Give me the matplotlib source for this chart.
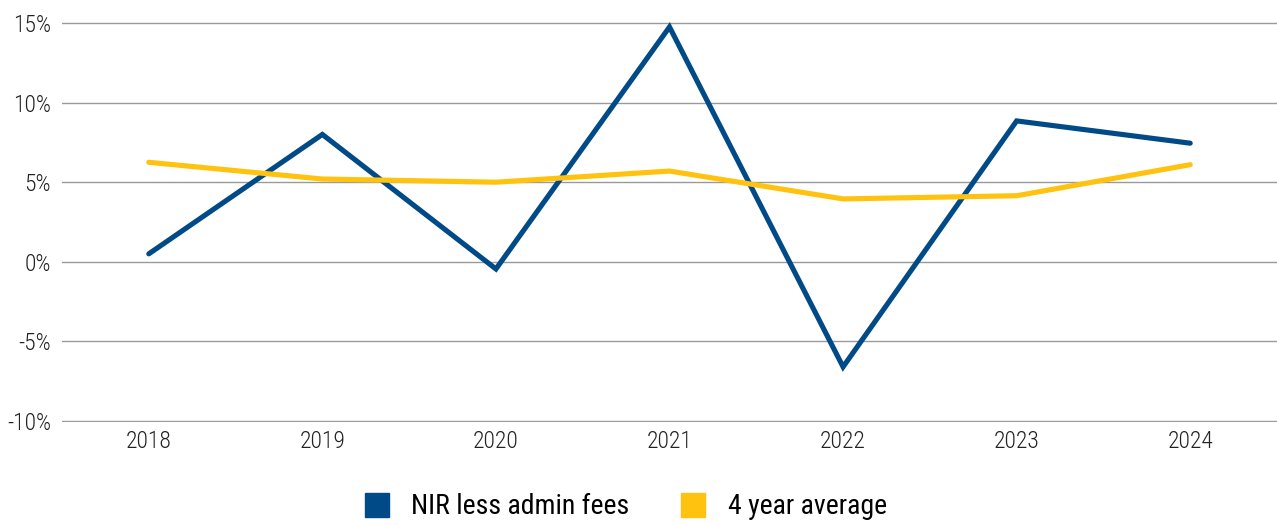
import matplotlib
matplotlib.use("Agg")
import matplotlib.pyplot as plt
from matplotlib.lines import Line2D

# Valores
anos = ["2018", "2019", "2020", "2021", "2022", "2023", "2024"]
nir_menos_taxas = [0.5, 8.0, -0.45, 14.75, -6.6, 8.85, 7.45]
media_4_anos = [6.25, 5.2, 5.0, 5.7, 3.95, 4.15, 6.1]
ticks_y = [-10, -5, 0, 5, 10, 15]

AZUL = "#004A87"
AMARELO = "#FFC20E"

plt.rcParams["font.family"] = ["Roboto Condensed", "Archivo Narrow", "Asap Condensed", "DejaVu Sans"]

fig = plt.figure(figsize=(12.77, 5.25), dpi=100)
# eixo um pouco maior que -10..15 para a linha de -10% não ser cortada
ax = fig.add_axes([62 / 1277, 1 - 422 / 525, 1 - 62 / 1277, 400 / 525])

x = list(range(len(anos)))
ax.plot(x, nir_menos_taxas, color=AZUL, lw=3.7, solid_capstyle="round",
        solid_joinstyle="miter", zorder=3)
ax.plot(x, media_4_anos, color=AMARELO, lw=3.7, solid_capstyle="round",
        solid_joinstyle="round", zorder=3)

ax.set_xlim(-0.5, len(anos) - 0.5)
ax.set_ylim(-10.063, 15.063)
ax.set_yticks(ticks_y)
ax.set_yticklabels([f"{t}%" for t in ticks_y], fontsize=17, color="#222222",
                   fontweight="light")
ax.set_xticks(x)
ax.set_xticklabels(anos, fontsize=17, color="#222222", fontweight="light")
ax.tick_params(length=0)
ax.tick_params(axis="y", pad=8)
ax.tick_params(axis="x", pad=6)
ax.grid(axis="y", color="#9a9a9a", lw=1.0)
ax.set_axisbelow(True)
for s in ax.spines.values():
    s.set_visible(False)

handles = [
    Line2D([], [], marker="s", ls="none", markersize=17, color=AZUL),
    Line2D([], [], marker="s", ls="none", markersize=17, color=AMARELO),
]
fig.legend(handles, ["NIR less admin fees", "4 year average"],
           loc="center", bbox_to_anchor=(625 / 1277, 1 - 507 / 525),
           ncol=2, frameon=False, fontsize=20, handletextpad=0.75,
           columnspacing=1.8, handlelength=1.0)

fig.savefig("out.png", dpi=100)
